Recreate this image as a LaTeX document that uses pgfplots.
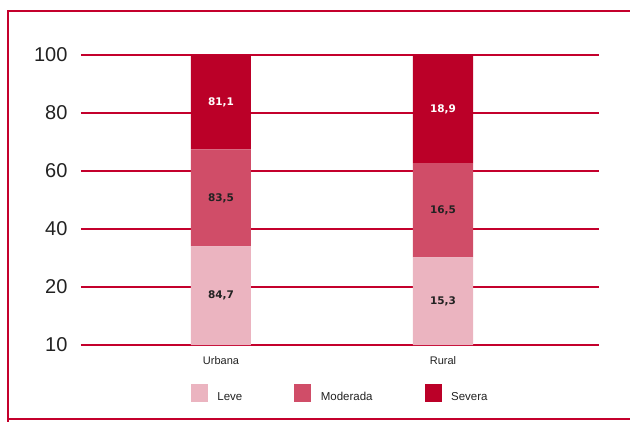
\documentclass[border=0pt]{standalone}
\usepackage{pgfplots}
\pgfplotsset{compat=1.18}
\usepackage{pgfplotstable}
\usepackage{fontspec}
\setmainfont{Liberation Sans}
\newfontfamily\labfont{DejaVu Sans}
\definecolor{severa}{RGB}{187,0,40}
\definecolor{moderada}{RGB}{208,77,104}
\definecolor{leve}{RGB}{235,180,192}
\definecolor{gridred}{RGB}{196,0,44}
\definecolor{txt}{RGB}{34,34,34}
\pgfplotstableread{
x leve moderada severa
0 33.98 33.49 32.53
1 30.18 32.54 37.28
}\barsdata
\pgfplotstableread{
x y lab
0 17.0 84,7
1 15.1 15,3
}\lableve
\pgfplotstableread{
x y lab
0 50.7 83,5
1 46.4 16,5
}\labmod
\pgfplotstableread{
x y lab
0 83.7 81,1
1 81.4 18,9
}\labsev
\begin{document}
\begin{tikzpicture}[x=1pt,y=1pt]
\useasboundingbox (0,0) rectangle (630,421);
\draw[gridred, line width=2pt] (8,-10) -- (8,410) -- (660,410);
\draw[gridred, line width=2pt] (8,2) -- (660,2);
\begin{axis}[
  at={(81pt,76pt)}, anchor=south west,
  scale only axis, width=518pt, height=290pt,
  xmin=-0.6306, xmax=1.7027, ymin=0, ymax=100,
  ybar stacked, bar width=60pt,
  axis line style={draw=none},
  major tick length=0pt,
  xtick={0,1}, xticklabels={Urbana,Rural},
  ytick={0,20,40,60,80,100}, yticklabels={10,20,40,60,80,100},
  /pgf/number format/assume math mode=true,
  ymajorgrids, grid style={gridred, line width=1.8pt},
  extra y ticks={0}, extra y tick labels={},
  extra y tick style={grid style={gridred, line width=2.8pt}},
  yticklabel style={font=\fontsize{20}{21}\selectfont, text=txt, xshift=-10pt},
  xticklabel style={font=\fontsize{11}{12}\selectfont, text=txt, yshift=-8pt},
  legend columns=3,
  legend style={at={(0.2118,-0.169)}, anchor=west, draw=none, inner sep=0pt,
    font=\fontsize{11.5}{13}\selectfont, text=txt,
    /tikz/every odd column/.append style={column sep=7.5pt},
    /tikz/every even column/.append style={column sep=50pt}},
  legend image code/.code={\fill[#1] (0pt,-4.9pt) rectangle (17pt,13.1pt);},
]
\addplot[fill=leve, draw=none] table[x=x, y=leve] {\barsdata};
\addlegendentry{Leve}
\addplot[fill=moderada, draw=none] table[x=x, y=moderada] {\barsdata};
\addlegendentry{Moderada}
\addplot[fill=severa, draw=none] table[x=x, y=severa] {\barsdata};
\addlegendentry{Severa}
\end{axis}
\begin{axis}[
  at={(81pt,76pt)}, anchor=south west,
  scale only axis, width=518pt, height=290pt,
  xmin=-0.6306, xmax=1.7027, ymin=0, ymax=100,
  hide axis,
  nodes near coords style={anchor=center, font=\labfont\bfseries\fontsize{10.5}{12}\selectfont},
]
\addplot[draw=none, mark=none, nodes near coords, point meta=explicit symbolic,
  nodes near coords style={text=txt}] table[x=x, y=y, meta=lab] {\lableve};
\addplot[draw=none, mark=none, nodes near coords, point meta=explicit symbolic,
  nodes near coords style={text=txt}] table[x=x, y=y, meta=lab] {\labmod};
\addplot[draw=none, mark=none, nodes near coords, point meta=explicit symbolic,
  nodes near coords style={text=white}] table[x=x, y=y, meta=lab] {\labsev};
\end{axis}
\end{tikzpicture}
\end{document}
